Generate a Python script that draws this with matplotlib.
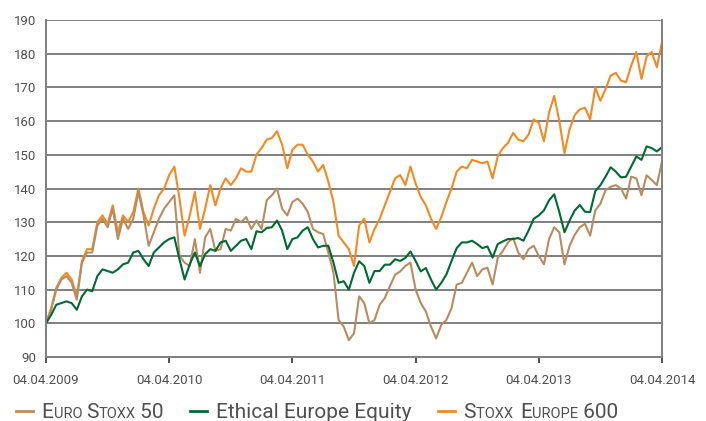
import matplotlib
matplotlib.use("Agg")
import matplotlib.pyplot as plt
import matplotlib.dates as mdates
from matplotlib.offsetbox import HPacker, TextArea, DrawingArea, AnnotationBbox
from matplotlib.lines import Line2D
import pandas as pd

# half-monthly readings, 04.04.2009 -> 04.04.2014 (121 points)
dates = pd.date_range("2009-04-04", "2014-04-04", periods=121)

euro_stoxx_50 = [
    100, 104, 110, 113, 114, 112, 107, 118, 121, 121, 129, 131, 128.5, 134, 125, 131, 128, 131, 139, 132, 123, 127, 131, 134, 136,
    138, 120, 118, 117, 125, 115, 125.5, 128, 121.5, 122, 128, 127.5, 131, 130, 131.5, 128, 130.5, 128, 136.5, 138, 140, 134, 132, 136,
    137, 135.5, 133, 128, 127, 126.5, 121, 115, 101, 99, 95,
    97, 108, 106, 100, 101, 105.5, 107.5, 111, 114.4, 115.4, 117, 118, 110, 106, 103.5, 99, 95.5, 99.5, 101, 104.5, 111.5, 112, 115, 118, 114, 116, 116.5, 111.5, 119.4, 121.5, 124,
    125.3, 121, 119, 122, 123, 120, 117.5, 125, 128.5, 127, 117.5, 123, 126.3, 128.5, 129.5, 126, 133.5, 135.5, 139.5, 140.5, 141, 140, 137, 143.5, 143, 138, 143.9, 142.5, 141, 148,
]
ethical_europe = [
    100, 102.5, 105.5, 106, 106.5, 106, 104, 108, 110, 109.5, 114, 116, 115.5, 115, 116, 117.5, 118, 121, 121.5, 119, 117, 121, 122.5, 124, 125,
    125.5, 119, 113, 117.5, 121, 117, 120.5, 122, 121.5, 124, 124.5, 121.5, 123, 124.5, 125, 122, 127.3, 127, 128.3, 128.5, 130.5, 127.5, 122, 125,
    125.5, 127.5, 128.5, 125, 122.5, 123, 123, 118, 112, 112.5, 110,
    115, 118.4, 117, 112, 115.5, 115.5, 117.4, 117.4, 119, 118.5, 119.4, 121.3, 118.5, 115.4, 116.4, 113, 110, 112, 114.5, 118.5, 122.3, 124, 124, 124.5, 123.5, 122.3, 122.8, 119.5, 123.5, 124.3, 125,
    125, 125.3, 124.5, 127.5, 131, 132, 133.5, 136.5, 138.3, 133, 127, 130.5, 133.5, 135.1, 133.1, 133, 139.2, 141, 143.5, 146.3, 145, 143.3, 143.5, 146.5, 149.5, 148.5, 152.5, 152, 151, 152.3,
]
stoxx_600 = [
    100, 104.5, 110.5, 113.5, 115, 113, 108, 118.5, 122, 122, 130, 132, 129.5, 135, 127, 132, 130, 133, 140, 133, 129, 134, 138, 140, 144,
    146.5, 137, 126, 132, 139, 128, 134, 141, 135, 140, 143, 141, 143, 146, 145, 145, 150, 152, 154.5, 155, 157, 153, 146, 151.5,
    153, 153, 150, 148, 145, 147, 142, 136, 126, 124, 122,
    117, 129, 131, 124, 128, 131, 135, 139, 143, 144, 141, 146.5, 141.5, 137.5, 135, 131, 128, 131.5, 136, 140, 145, 146.5, 146, 148.5, 148, 147.5, 148, 143, 149.5, 152, 153.5,
    156.5, 154.5, 154, 156, 160.5, 159.5, 154, 162.5, 167.5, 160, 150.5, 157.6, 161.8, 163.5, 164, 160.5, 169.9, 166, 169.5, 173.5, 174.3, 172, 171.5, 176.5, 180.5, 172.5, 179.2, 180.5, 176, 183.5,
]

tick_dates = ["2009-04-04", "2010-04-04", "2011-04-04", "2012-04-04", "2013-04-04", "2014-04-04"]
y_ticks = list(range(90, 191, 10))

TAN = "#b78c62"
GREEN = "#006a33"
ORANGE = "#f58a25"
GRID = "#7f7f7f"
TEXT = "#505050"

plt.rcParams["font.family"] = ["Roboto", "DejaVu Sans"]

fig = plt.figure(figsize=(7.06, 4.21), dpi=100)
ax = fig.add_axes([46 / 706, 1 - 357 / 421, 616 / 706, 337 / 421])

ax.plot(dates, stoxx_600, color=ORANGE, lw=1.5)
ax.plot(dates, euro_stoxx_50, color=TAN, lw=1.5)
ax.plot(dates, ethical_europe, color=GREEN, lw=1.5)

ax.set_ylim(90, 190)
ax.set_yticks(y_ticks)
ax.set_xlim(pd.Timestamp(tick_dates[0]), pd.Timestamp(tick_dates[-1]))
ax.set_xticks([pd.Timestamp(d) for d in tick_dates])
ax.xaxis.set_major_formatter(mdates.DateFormatter("%d.%m.%Y"))

ax.grid(axis="y", color=GRID, lw=1.4)
ax.set_axisbelow(True)
for side in ["left", "bottom", "right"]:
    ax.spines[side].set_color(GRID)
    ax.spines[side].set_linewidth(1.4)
ax.spines["top"].set_visible(False)
ax.tick_params(axis="y", length=0, pad=7, labelsize=9.5, labelcolor=TEXT)
ax.tick_params(axis="x", length=4, width=1.2, color="#333333", pad=8, labelsize=9.5, labelcolor=TEXT)

# legend with small caps done by hand
BIG, SMALL = 15, 10.5


def legend_item(color, pieces):
    da = DrawingArea(12.5, 10, 0, 0)
    da.add_artist(Line2D([0, 12.5], [4.8, 4.8], color=color, lw=2))
    gap = DrawingArea(6, 1, 0, 0)
    kids = [da, gap]
    for s, size in pieces:
        kids.append(TextArea(s, textprops=dict(fontsize=size, color=TEXT)))
    return HPacker(children=kids, align="baseline", pad=0, sep=0)


items = [
    legend_item(TAN, [("E", BIG), ("URO ", SMALL), ("S", BIG), ("TOXX", SMALL), (" 50", BIG)]),
    legend_item(GREEN, [("Ethical Europe Equity", BIG)]),
    legend_item(ORANGE, [("S", BIG), ("TOXX  ", SMALL), ("E", BIG), ("UROPE", SMALL), (" 600", BIG)]),
]
row = [items[0], DrawingArea(19, 1, 0, 0), items[1], DrawingArea(19, 1, 0, 0), items[2]]
legend = HPacker(children=row, align="baseline", pad=0, sep=0)
ab = AnnotationBbox(legend, (16, 9), xycoords="figure pixels", box_alignment=(0, 0.5),
                    frameon=False, pad=0, annotation_clip=False)
ax.add_artist(ab)

fig.savefig("out.png", dpi=100)
